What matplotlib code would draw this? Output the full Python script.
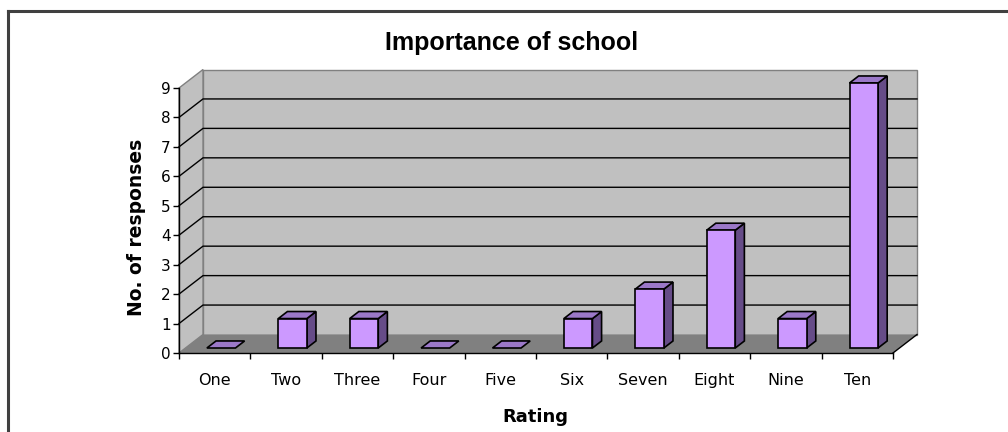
import matplotlib
matplotlib.use("Agg")
import matplotlib.pyplot as plt
from matplotlib.patches import Polygon
from matplotlib.lines import Line2D
from matplotlib.transforms import IdentityTransform
import numpy as np

categories = ["One", "Two", "Three", "Four", "Five", "Six", "Seven", "Eight", "Nine", "Ten"]
responses = [0, 1, 1, 0, 0, 1, 2, 4, 1, 9]
y_ticks = list(range(0, 10))
title = "Importance of school"
x_label = "Rating"
y_label = "No. of responses"

W, H, DPI = 1008, 432, 100
fig = plt.figure(figsize=(W / DPI, H / DPI), dpi=DPI)
fig.patch.set_facecolor("white")

# front plane of the 3D box
ax = fig.add_axes([179 / W, (H - 353) / H, 714 / W, 265 / H])
ax.set_xlim(0, len(categories))
ax.set_ylim(0, max(y_ticks))
ax.set_facecolor("none")

DX, DY = 24, 18.5  # depth offset in pixels

def P(x, y, f):
    px, py = ax.transData.transform((x, y))
    return (px + f * DX * DPI / 100, py + f * DY * DPI / 100)

def poly(pts, fc, ec, lw=1.0, z=1):
    p = Polygon(pts, closed=True, facecolor=fc, edgecolor=ec, linewidth=lw,
                transform=IdentityTransform(), clip_on=False, zorder=z)
    ax.add_patch(p)

def line(pts, color, lw=1.0, z=1.5):
    xs, ys = zip(*pts)
    ax.add_line(Line2D(xs, ys, color=color, linewidth=lw, transform=IdentityTransform(),
                       clip_on=False, zorder=z))

n = len(categories)
ymax = max(y_ticks)
wall = "#C0C0C0"
floor = "#808080"

# back wall
poly([P(0, 0, 1), P(n, 0, 1), P(n, ymax, 1), P(0, ymax, 1)], wall, "#808080", 1.0, 0.5)
# side wall
poly([P(0, 0, 0), P(0, 0, 1), P(0, ymax, 1), P(0, ymax, 0)], wall, "#808080", 1.0, 0.6)
# floor
poly([P(0, 0, 0), P(n, 0, 0), P(n, 0, 1), P(0, 0, 1)], floor, "none", 0, 0.7)
line([P(n, 0, 0), P(n, 0, 1)], "black", 1.0, 0.8)

# gridlines
for k in y_ticks[1:-1]:
    line([P(0, k, 0), P(0, k, 1), P(n, k, 1)], "black", 1.0, 0.9)

# bars
front_c, top_c, side_c = "#CC99FF", "#9B78C8", "#664C88"
f0, f1 = 0.27, 0.65
bw = 0.4
for i, v in enumerate(responses):
    x0, x1 = i + 0.5 - bw / 2, i + 0.5 + bw / 2
    if v > 0:
        poly([P(x1, 0, f0), P(x1, 0, f1), P(x1, v, f1), P(x1, v, f0)], side_c, "black", 1.2, 3)
        poly([P(x0, v, f0), P(x1, v, f0), P(x1, v, f1), P(x0, v, f1)], top_c, "black", 1.2, 3)
        poly([P(x0, 0, f0), P(x1, 0, f0), P(x1, v, f0), P(x0, v, f0)], front_c, "black", 1.2, 3)
    else:
        poly([P(x0, 0, f0), P(x1, 0, f0), P(x1, 0, f1), P(x0, 0, f1)], top_c, "black", 1.2, 3)

# axes
for s in ["top", "right"]:
    ax.spines[s].set_visible(False)
for s in ["left", "bottom"]:
    ax.spines[s].set_color("black")
    ax.spines[s].set_linewidth(1.0)
    ax.spines[s].set_zorder(4)

ax.set_yticks(y_ticks)
ax.set_yticklabels([str(t) for t in y_ticks])
ax.set_xticks(np.arange(0, n + 1))
ax.set_xticklabels([])
ax.set_xticks(np.arange(n) + 0.5, minor=True)
ax.set_xticklabels(categories, minor=True)
ax.tick_params(axis="y", which="major", direction="out", length=4.5, width=1.0,
               labelsize=11, pad=1.5, colors="black")
ax.tick_params(axis="x", which="major", direction="out", length=4.5, width=1.0)
ax.tick_params(axis="x", which="minor", length=0, labelsize=11.5, pad=14.5)
for lab in ax.get_xticklabels(minor=True) + ax.get_yticklabels():
    lab.set_family("DejaVu Sans")

fig.text(512 / W, 1 - 50 / H, title, ha="center", va="baseline",
         fontsize=18, fontweight="bold", family="Liberation Sans")
fig.text(535 / W, 1 - 422 / H, x_label, ha="center", va="baseline",
         fontsize=13, fontweight="bold", family="DejaVu Sans")
fig.text(142 / W, 1 - 227 / H, y_label, ha="center", va="baseline", rotation=90,
         rotation_mode="anchor", fontsize=13.5, fontweight="bold", family="DejaVu Sans")

# chart area border (top & left visible)
fig.add_artist(Line2D([8 / W, 8 / W], [0, 1 - 11 / H], color="#404040", linewidth=2.2,
                      transform=fig.transFigure))
fig.add_artist(Line2D([8 / W, 1.0], [1 - 11 / H, 1 - 11 / H], color="#404040", linewidth=2.2,
                      transform=fig.transFigure))

fig.savefig("out.png", dpi=DPI)
